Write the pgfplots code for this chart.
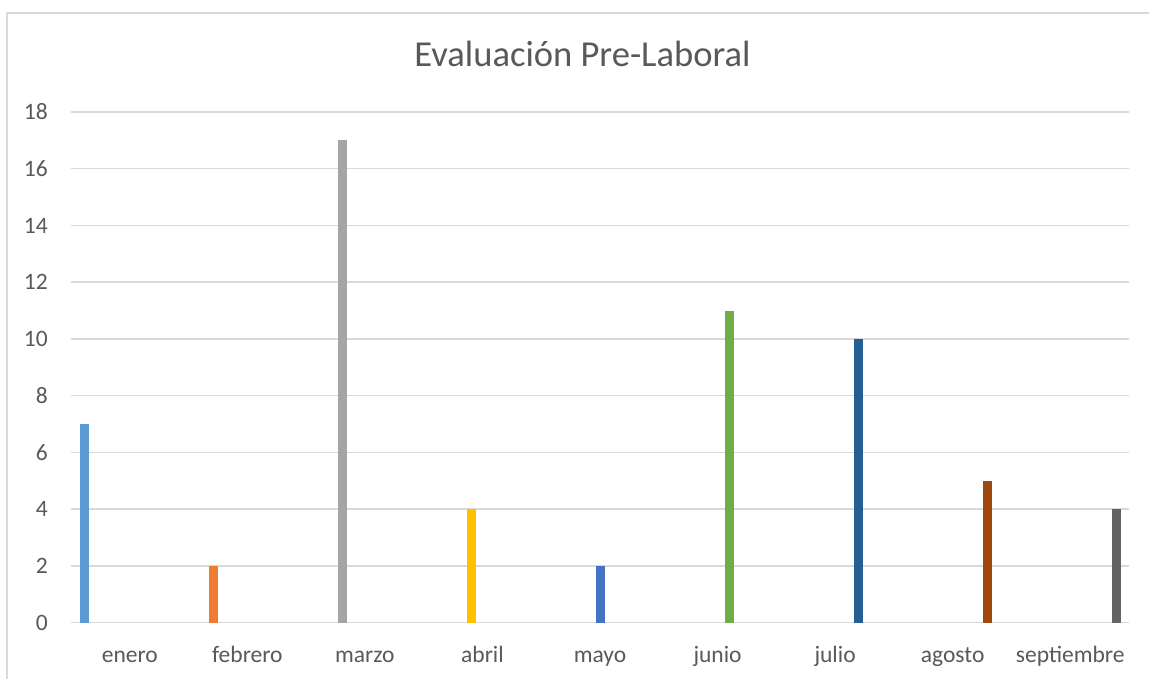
\documentclass[border=0pt]{standalone}
\usepackage{pgfplots}
\pgfplotsset{compat=1.18}
\usepackage{fontspec}
\setmainfont{Carlito}
\definecolor{txt}{HTML}{595959}
\definecolor{grd}{HTML}{D9D9D9}
\definecolor{c1}{HTML}{5B9BD5}
\definecolor{c2}{HTML}{ED7D31}
\definecolor{c3}{HTML}{A5A5A5}
\definecolor{c4}{HTML}{FFC000}
\definecolor{c5}{HTML}{4472C4}
\definecolor{c6}{HTML}{70AD47}
\definecolor{c7}{HTML}{255E91}
\definecolor{c8}{HTML}{9E480E}
\definecolor{c9}{HTML}{636363}
\begin{document}
\begin{tikzpicture}
\useasboundingbox (-71bp,-56.5bp) rectangle (1078bp,622.5bp);
\fill[white] (-71bp,-56.5bp) rectangle (1078bp,622.5bp);
\draw[grd, line width=1.5bp] (-64bp,-80bp) rectangle (1100bp,609.5bp);
\begin{axis}[
  scale only axis,
  width=1058bp, height=510.5bp,
  xmin=-0.5, xmax=8.5, ymin=0, ymax=18,
  axis x line*=bottom, axis y line*=left,
  x axis line style={grd, line width=1.5bp, -},
  y axis line style={draw=none},
  ymajorgrids, grid style={grd, line width=1.5bp},
  ytick={0,2,...,18},
  xtick={0,...,8},
  xticklabels={enero,febrero,marzo,abril,mayo,junio,julio,agosto,septiembre},
  major tick length=0pt,
  tick style={draw=none},
  /pgf/number format/assume math mode=true,
  ticklabel style={font=\fontsize{23.6pt}{28pt}\selectfont, text=txt, inner sep=0pt},
  yticklabel style={anchor=east, xshift=-23bp},
  xticklabel style={anchor=base, yshift=-39.5bp},
  clip=false,
]
\addplot[ybar, bar width=0.0765, bar shift=0pt, fill=c1, draw=none] coordinates {(-0.385,7)};
\addplot[ybar, bar width=0.0765, bar shift=0pt, fill=c2, draw=none] coordinates {(0.712,2)};
\addplot[ybar, bar width=0.0765, bar shift=0pt, fill=c3, draw=none] coordinates {(1.809,17)};
\addplot[ybar, bar width=0.0765, bar shift=0pt, fill=c4, draw=none] coordinates {(2.906,4)};
\addplot[ybar, bar width=0.0765, bar shift=0pt, fill=c5, draw=none] coordinates {(4.003,2)};
\addplot[ybar, bar width=0.0765, bar shift=0pt, fill=c6, draw=none] coordinates {(5.100,11)};
\addplot[ybar, bar width=0.0765, bar shift=0pt, fill=c7, draw=none] coordinates {(6.197,10)};
\addplot[ybar, bar width=0.0765, bar shift=0pt, fill=c8, draw=none] coordinates {(7.294,5)};
\addplot[ybar, bar width=0.0765, bar shift=0pt, fill=c9, draw=none] coordinates {(8.391,4)};
\end{axis}
\node[anchor=base, text=txt, inner sep=0pt, font=\fontsize{36.7pt}{44pt}\selectfont] at (511.5bp,555.5bp) {Evaluación Pre-Laboral};
\end{tikzpicture}
\end{document}
